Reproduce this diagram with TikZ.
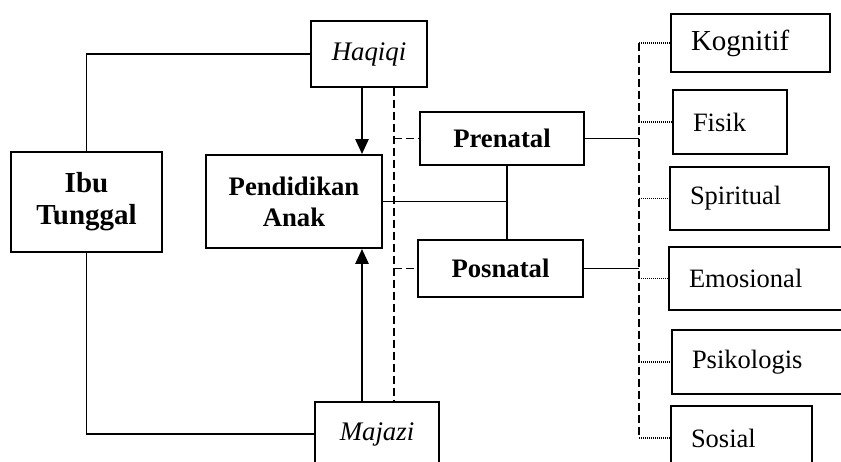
\documentclass[tikz,border=0pt]{standalone}
\usepackage{fontspec}
\setmainfont{Liberation Serif}
\usetikzlibrary{arrows.meta}
\tikzset{
  box/.style={draw, line width=2pt, inner sep=0pt, align=center, font=\fontsize{26.5}{31}\selectfont},
  bbox/.style={box, font=\bfseries\fontsize{26.7}{31}\selectfont},
  lbox/.style={box, inner xsep=20pt, align=left},
  conn/.style={line width=1.8pt},
  dconn/.style={line width=1.8pt, dash pattern=on 8pt off 4pt},
  dotconn/.style={line width=1.5pt, dash pattern=on 1pt off 1pt},
  arr/.style={line width=2.6pt, -{Triangle[width=13pt,length=15pt]}},
}
\begin{document}
\begin{tikzpicture}[x=1pt,y=-1pt]
\useasboundingbox (0,0) rectangle (841,462);
\clip (0,0) rectangle (841,462);
% main nodes
\node[box, font=\itshape\fontsize{26.8}{31}\selectfont, minimum width=116pt, minimum height=66pt] (haq) at (369,54) {Haqiqi};
\node[bbox, font=\bfseries\fontsize{29}{32}\selectfont, line width=2.6pt, minimum width=151pt, minimum height=100pt] (ibu) at (86.5,202) {Ibu\\Tunggal};
\node[bbox, line width=1.8pt, minimum width=176pt, minimum height=93pt] (pend) at (294,201.5) {Pendidikan\\Anak};
\node[box, font=\itshape\fontsize{26.8}{31}\selectfont, line width=1.8pt, minimum width=124pt, minimum height=64pt] (maj) at (377,434) {Majazi};
\node[bbox, minimum width=164pt, minimum height=53pt] (pre) at (502,138.5) {Prenatal};
\node[bbox, minimum width=165pt, minimum height=57pt] (pos) at (500.5,268.5) {Posnatal};
% right boxes
\node[lbox, font=\fontsize{29}{31}\selectfont, text width=119pt, minimum height=58pt] (kog) at (750.5,43) {Kognitif};
\node[lbox, text width=74pt, minimum height=64pt] (fis) at (730,122) {Fisik};
\node[lbox, text width=119pt, minimum height=63pt] (spi) at (749.5,198.5) {Spiritual};
\node[lbox, text width=150pt, minimum height=63pt] (emo) at (764,278.5) {Emosional};
\node[lbox, text width=150pt, minimum height=64pt] (psi) at (767,362) {Psikologis};
\node[lbox, text width=101pt, minimum height=64pt] (sos) at (741.5,438) {Sosial};
% helper coordinates
\coordinate (ax) at (362,0);
\coordinate (dx) at (394,0);
\coordinate (vx) at (507,0);
\coordinate (rx) at (639,0);
% connectors
\draw[conn] (haq.west) -| (ibu.north);
\draw[conn] (ibu.south) |- (maj.west);
\draw[arr] (haq.south -| ax) -- (pend.north -| ax);
\draw[arr] (maj.north -| ax) -- (pend.south -| ax);
\draw[dconn] (haq.south -| dx) -- (maj.north -| dx);
\draw[dconn] (dx |- pre.west) -- (pre.west);
\draw[dconn] (dx |- pos.west) -- (pos.west);
\draw[conn] (pre.south -| vx) -- (pos.north -| vx);
\draw[conn] (pend.east) -- (vx |- pend.east);
\draw[conn] (pre.east) -- (rx |- pre.east);
\draw[conn] (pos.east) -- (rx |- pos.east);
\draw[dconn] (rx |- kog.west) -- (rx |- sos.west);
\foreach \b in {kog,fis,spi,emo,psi,sos}{
  \draw[dotconn] (rx |- \b.west) -- (\b.west);
}
\end{tikzpicture}
\end{document}
